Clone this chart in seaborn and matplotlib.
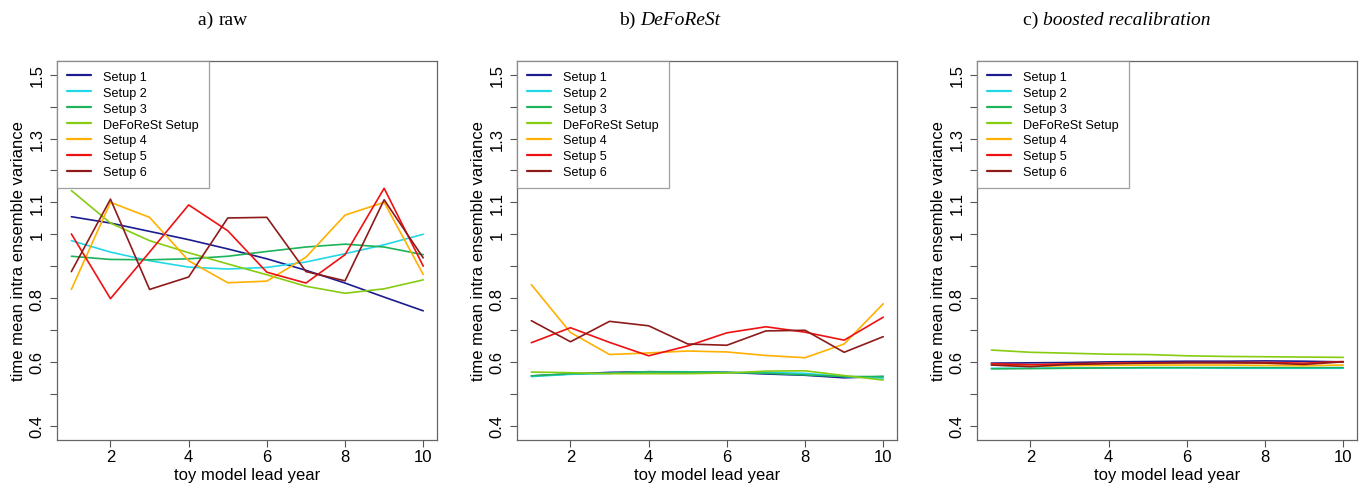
import numpy as np
import pandas as pd
import matplotlib
matplotlib.use("Agg")
import matplotlib.pyplot as plt
import seaborn as sns
from matplotlib.offsetbox import TextArea, HPacker, AnchoredOffsetbox

lead_years = list(range(1, 11))
setups = ["Setup 1", "Setup 2", "Setup 3", "DeFoReSt Setup", "Setup 4", "Setup 5", "Setup 6"]
colors = ["#1c1c8f", "#22d8e8", "#1db35a", "#86cc10", "#ffb000", "#ee1111", "#8e1a1a"]

title_prefix = ["a) ", "b) ", "c) "]
title_main = ["raw", "DeFoReSt", "boosted recalibration"]
title_italic = [False, True, True]

raw_s1 = [1.055, 1.035, 1.009, 0.983, 0.954, 0.923, 0.887, 0.847, 0.803, 0.760]
raw_s2 = [0.980, 0.944, 0.917, 0.897, 0.891, 0.896, 0.913, 0.939, 0.967, 1.000]
raw_s3 = [0.931, 0.921, 0.920, 0.923, 0.931, 0.946, 0.960, 0.969, 0.960, 0.936]
raw_df = [1.137, 1.035, 0.980, 0.942, 0.907, 0.873, 0.837, 0.815, 0.829, 0.857]
raw_s4 = [0.827, 1.100, 1.053, 0.917, 0.848, 0.853, 0.928, 1.060, 1.100, 0.874]
raw_s5 = [1.001, 0.798, 0.944, 1.092, 1.011, 0.881, 0.847, 0.936, 1.144, 0.900]
raw_s6 = [0.883, 1.110, 0.827, 0.866, 1.051, 1.053, 0.883, 0.854, 1.108, 0.926]

dfr_s1 = [0.556, 0.562, 0.567, 0.569, 0.568, 0.567, 0.562, 0.558, 0.550, 0.554]
dfr_s2 = [0.554, 0.561, 0.564, 0.569, 0.569, 0.566, 0.567, 0.564, 0.554, 0.549]
dfr_s3 = [0.556, 0.563, 0.564, 0.569, 0.568, 0.567, 0.564, 0.559, 0.554, 0.554]
dfr_df = [0.568, 0.566, 0.563, 0.563, 0.563, 0.565, 0.571, 0.572, 0.557, 0.543]
dfr_s4 = [0.842, 0.692, 0.623, 0.628, 0.634, 0.631, 0.620, 0.613, 0.656, 0.782]
dfr_s5 = [0.660, 0.707, 0.661, 0.619, 0.650, 0.691, 0.710, 0.693, 0.668, 0.740]
dfr_s6 = [0.729, 0.663, 0.727, 0.713, 0.656, 0.652, 0.697, 0.699, 0.630, 0.679]

bst_s1 = [0.596, 0.597, 0.598, 0.600, 0.601, 0.602, 0.602, 0.603, 0.602, 0.600]
bst_s2 = [0.580, 0.580, 0.581, 0.581, 0.581, 0.581, 0.580, 0.580, 0.580, 0.580]
bst_s3 = [0.578, 0.579, 0.580, 0.581, 0.582, 0.582, 0.582, 0.582, 0.582, 0.582]
bst_df = [0.637, 0.630, 0.627, 0.624, 0.623, 0.619, 0.617, 0.616, 0.615, 0.614]
bst_s4 = [0.590, 0.586, 0.588, 0.589, 0.590, 0.590, 0.590, 0.589, 0.588, 0.590]
bst_s5 = [0.594, 0.591, 0.594, 0.596, 0.597, 0.598, 0.598, 0.598, 0.596, 0.601]
bst_s6 = [0.590, 0.585, 0.592, 0.594, 0.596, 0.597, 0.597, 0.596, 0.592, 0.600]

panels = [
    [raw_s1, raw_s2, raw_s3, raw_df, raw_s4, raw_s5, raw_s6],
    [dfr_s1, dfr_s2, dfr_s3, dfr_df, dfr_s4, dfr_s5, dfr_s6],
    [bst_s1, bst_s2, bst_s3, bst_df, bst_s4, bst_s5, bst_s6],
]

y_ticks = [0.4, 0.5, 0.6, 0.7, 0.8, 0.9, 1.0, 1.1, 1.2, 1.3, 1.4, 1.5]
y_ticklabels = ["0.4", "", "0.6", "", "0.8", "", "1", "1.1", "", "1.3", "", "1.5"]
x_ticks = [2, 4, 6, 8, 10]

sns.set_style("white")
plt.rcParams["font.family"] = ["Liberation Sans", "DejaVu Sans"]
plt.rcParams["text.color"] = "black"
plt.rcParams["axes.labelcolor"] = "black"
plt.rcParams["xtick.color"] = "black"
plt.rcParams["ytick.color"] = "black"

fig = plt.figure(figsize=(13.67, 4.89), dpi=100)
lefts = [57.3, 517.3, 977.3]
title_cx = [223, 670, 1117]
W, H = 1367, 489
for i, series in enumerate(panels):
    ax = fig.add_axes([lefts[i] / W, (H - 440.7) / H, 380 / W, 379 / H])
    rows = []
    for name, vals in zip(setups, series):
        for x, v in zip(lead_years, vals):
            rows.append({"lead": x, "var": v, "setup": name})
    df = pd.DataFrame(rows)
    sns.lineplot(data=df, x="lead", y="var", hue="setup", hue_order=setups,
                 palette=dict(zip(setups, colors)), linewidth=1.2, ax=ax,
                 legend=False, estimator=None, sort=False)
    ax.set_xlim(0.64, 10.36)
    ax.set_ylim(0.356, 1.544)
    ax.set_yticks(y_ticks)
    ax.set_yticklabels(y_ticklabels, rotation=90, va="center")
    ax.set_xticks(x_ticks)
    ax.set_xticklabels([str(t) for t in x_ticks])
    ax.tick_params(axis="both", direction="out", length=5, width=0.8,
                   color="#555555", labelcolor="black", labelsize=12,
                   left=True, bottom=True)
    ax.tick_params(axis="y", pad=4)
    ax.tick_params(axis="x", pad=2)
    for sp in ax.spines.values():
        sp.set_visible(True)
        sp.set_color("#666666")
        sp.set_linewidth(0.9)
    ax.set_xlabel("toy model lead year", fontsize=12, labelpad=2, color="black")
    ax.set_ylabel("time mean intra ensemble variance", fontsize=12, labelpad=3, color="black")
    handles = [plt.Line2D([], [], color=c, lw=1.6) for c in colors]
    leg = ax.legend(handles, setups, loc="upper left", bbox_to_anchor=(0, 1),
                    borderaxespad=0, fontsize=9.1, frameon=True, fancybox=False,
                    handlelength=1.9, handletextpad=0.95, labelspacing=0.31,
                    borderpad=0.8, edgecolor="#888888")
    leg.get_frame().set_linewidth(0.9)
    for t in leg.get_texts():
        t.set_color("black")

    ty = 1 - 20 / H
    p1 = TextArea(title_prefix[i], textprops=dict(fontsize=14, family="Liberation Serif", color="black"))
    p2 = TextArea(title_main[i], textprops=dict(fontsize=14, family="Liberation Serif", color="black",
                                                style="italic" if title_italic[i] else "normal"))
    box = HPacker(children=[p1, p2], align="baseline", pad=0, sep=0)
    ab = AnchoredOffsetbox(loc="center", child=box, frameon=False,
                           bbox_to_anchor=(title_cx[i] / W, ty),
                           bbox_transform=fig.transFigure, borderpad=0, pad=0)
    fig.add_artist(ab)

fig.savefig("out.png", dpi=100)
